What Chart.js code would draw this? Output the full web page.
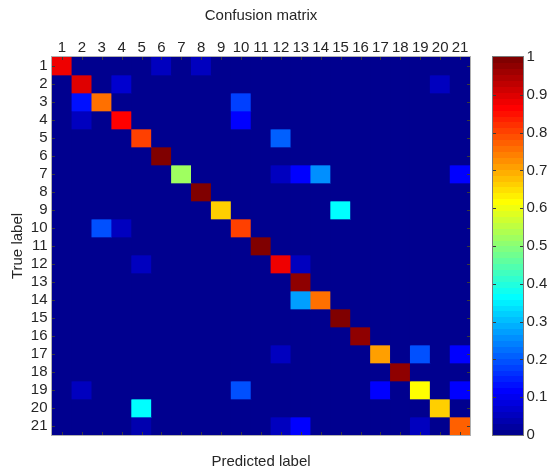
<!DOCTYPE html>
<html><head><meta charset="utf-8">
<script src="https://cdn.jsdelivr.net/npm/chart.js@4"></script>
<style>
html,body{margin:0;padding:0;background:#fff;}
#wrap{position:relative;width:552px;height:472px;overflow:hidden;}
#main{position:absolute;left:0;top:0;}
#cb{position:absolute;left:480px;top:0;}
</style></head><body>
<div id="wrap"><canvas id="main" width="552" height="472"></canvas><canvas id="cb" width="72" height="472"></canvas></div>
<script>
// ---- data ----
const classLabels = ['1','2','3','4','5','6','7','8','9','10','11','12','13','14','15','16','17','18','19','20','21'];
const matrix = [
/* 1*/ [0.88,0,0,0,0,0.06,0,0.06,0,0,0,0,0,0,0,0,0,0,0,0,0],
/* 2*/ [0,0.90,0,0.07,0,0,0,0,0,0,0,0,0,0,0,0,0,0,0,0.05,0],
/* 3*/ [0,0.14,0.76,0,0,0,0,0,0,0.18,0,0,0,0,0,0,0,0,0,0,0],
/* 4*/ [0,0.06,0,0.86,0,0,0,0,0,0.12,0,0,0,0,0,0,0,0,0,0,0],
/* 5*/ [0,0,0,0,0.80,0,0,0,0,0,0,0.21,0,0,0,0,0,0,0,0,0],
/* 6*/ [0,0,0,0,0,1.00,0,0,0,0,0,0,0,0,0,0,0,0,0,0,0],
/* 7*/ [0,0,0,0,0,0,0.52,0,0,0,0,0.05,0.11,0.26,0,0,0,0,0,0,0.12],
/* 8*/ [0,0,0,0,0,0,0,0.99,0,0,0,0,0,0,0,0,0,0,0,0,0],
/* 9*/ [0,0,0,0,0,0,0,0,0.66,0,0,0,0,0,0.37,0,0,0,0,0,0],
/*10*/ [0,0,0.19,0.06,0,0,0,0,0,0.80,0,0,0,0,0,0,0,0,0,0,0],
/*11*/ [0,0,0,0,0,0,0,0,0,0,1.00,0,0,0,0,0,0,0,0,0,0],
/*12*/ [0,0,0,0,0.05,0,0,0,0,0,0,0.89,0.06,0,0,0,0,0,0,0,0],
/*13*/ [0,0,0,0,0,0,0,0,0,0,0,0,0.98,0,0,0,0,0,0,0,0],
/*14*/ [0,0,0,0,0,0,0,0,0,0,0,0,0.28,0.76,0,0,0,0,0,0,0],
/*15*/ [0,0,0,0,0,0,0,0,0,0,0,0,0,0,1.00,0,0,0,0,0,0],
/*16*/ [0,0,0,0,0,0,0,0,0,0,0,0,0,0,0,0.98,0,0,0,0,0],
/*17*/ [0,0,0,0,0,0,0,0,0,0,0,0.05,0,0,0,0,0.71,0,0.19,0,0.11],
/*18*/ [0,0,0,0,0,0,0,0,0,0,0,0,0,0,0,0,0,0.98,0,0,0],
/*19*/ [0,0.06,0,0,0,0,0,0,0,0.19,0,0,0,0,0,0,0.12,0,0.61,0,0.12],
/*20*/ [0,0,0,0,0.37,0,0,0,0,0,0,0,0,0,0,0,0,0,0,0.665,0],
/*21*/ [0,0,0,0,0.04,0,0,0,0,0,0,0.06,0.11,0,0,0,0,0,0.06,0,0.77]
];
const colorbarTicks = [0,0.1,0.2,0.3,0.4,0.5,0.6,0.7,0.8,0.9,1];
const colorLevels = 64;

// ---- jet colormap (MATLAB style, 64 levels) ----
function jet(v){
  const k = Math.min(colorLevels-1, Math.max(0, Math.floor(v*colorLevels)));
  const t = (k+1)/colorLevels;
  const f = x => Math.round(255*Math.max(0, Math.min(1, x)));
  return 'rgb(' + f(1.5-Math.abs(4*t-3)) + ',' + f(1.5-Math.abs(4*t-2)) + ',' + f(1.5-Math.abs(4*t-1)) + ')';
}

const FONT = {family:'"Liberation Sans", Arial, sans-serif', size:15};
const TXT = '#262626';
Chart.defaults.font.family = FONT.family;
Chart.defaults.color = TXT;

// plugin: background + frame + inward tick marks
const frameTicks = {
  id:'frameTicks',
  beforeDatasetsDraw(chart){
    const {ctx, chartArea:a} = chart;
    ctx.save();
    ctx.fillStyle = jet(0);
    ctx.fillRect(a.left, a.top, a.right-a.left, a.bottom-a.top);
    ctx.restore();
  },
  afterDatasetsDraw(chart){
    const {ctx, chartArea:a, scales} = chart;
    ctx.save();
    ctx.strokeStyle = '#b0b0b0';
    ctx.lineWidth = 1;
    ctx.strokeRect(a.left-0.5, a.top-0.5, a.right-a.left+1, a.bottom-a.top+1);
    ctx.strokeStyle = '#3a3a3a';
    ctx.beginPath();
    const L = 3;
    scales.x.ticks.forEach((t,i)=>{
      const px = Math.round(scales.x.getPixelForTick(i))+0.5;
      ctx.moveTo(px, a.top); ctx.lineTo(px, a.top+L);
      ctx.moveTo(px, a.bottom); ctx.lineTo(px, a.bottom-L);
    });
    scales.y.ticks.forEach((t,i)=>{
      const py = Math.round(scales.y.getPixelForValue(t.value))+0.5;
      ctx.moveTo(a.left, py); ctx.lineTo(a.left+L, py);
      ctx.moveTo(a.right, py); ctx.lineTo(a.right-L, py);
    });
    ctx.stroke();
    ctx.restore();
  }
};

const datasets = matrix.map((row, i) => ({
  label: 'True ' + classLabels[i],
  data: row.map(() => [i+0.5, i+1.5]),
  backgroundColor: row.map(jet),
  borderWidth: 0,
  barPercentage: 1,
  categoryPercentage: 1,
  grouped: false
}));

new Chart(document.getElementById('main'), {
  type:'bar',
  data:{labels: classLabels, datasets},
  options:{
    responsive:false, animation:false, devicePixelRatio:1,
    layout:{padding:{left:0, top:0, right:82, bottom:0}},
    plugins:{
      legend:{display:false}, tooltip:{enabled:false},
      title:{display:true, text:'Confusion matrix', fullSize:false, color:TXT,
        font:{family:FONT.family, size:15, weight:'normal'}, padding:{top:6.5, bottom:3}}
    },
    scales:{
      x:{type:'category', position:'top', offset:true,
        grid:{display:false, drawTicks:false}, border:{display:false},
        ticks:{autoSkip:false, maxRotation:0, minRotation:0, padding:0, color:TXT, font:FONT},
        afterFit(s){ s.height = 29.5; }
      },
      x2:{type:'category', position:'bottom', offset:true,
        grid:{display:false, drawTicks:false}, border:{display:false},
        ticks:{display:false},
        title:{display:true, text:'Predicted label', color:TXT, font:FONT, padding:{top:0, bottom:1.3}},
        afterFit(s){ s.height = 37; }
      },
      y:{type:'linear', position:'left', min:0.5, max:21.5, reverse:true,
        grid:{display:false, drawTicks:false}, border:{display:false},
        afterBuildTicks(s){ s.ticks = classLabels.map(l => ({value:Number(l)})); },
        ticks:{autoSkip:false, padding:4.5, color:TXT, font:FONT, callback:(v)=>String(v)},
        title:{display:true, text:'True label', color:TXT, font:FONT, padding:{top:9, bottom:0}},
        afterFit(s){ s.width = 52; }
      }
    }
  },
  plugins:[frameTicks]
});

// ---- colorbar ----
const colorbarPlugin = {
  id:'colorbarPlugin',
  afterDatasetsDraw(chart){
    const {ctx, chartArea:a, scales} = chart;
    const ys = scales.y;
    ctx.save();
    for(let k=0;k<colorLevels;k++){
      const y1 = ys.getPixelForValue(k/colorLevels);
      const y2 = ys.getPixelForValue((k+1)/colorLevels);
      ctx.fillStyle = jet((k+0.5)/colorLevels);
      ctx.fillRect(a.left, Math.floor(y2), a.right-a.left, Math.ceil(y1)-Math.floor(y2));
    }
    ctx.strokeStyle = '#7a7a7a';
    ctx.lineWidth = 1;
    ctx.strokeRect(a.left-0.5, a.top-0.5, a.right-a.left+1, a.bottom-a.top+1);
    ctx.strokeStyle = '#3a3a3a';
    ctx.beginPath();
    colorbarTicks.forEach(v=>{
      if(v===0||v===1) return;
      const py = Math.round(ys.getPixelForValue(v))+0.5;
      ctx.moveTo(a.left, py); ctx.lineTo(a.left+3, py);
      ctx.moveTo(a.right, py); ctx.lineTo(a.right-3, py);
    });
    ctx.stroke();
    ctx.restore();
  }
};

new Chart(document.getElementById('cb'), {
  type:'bar',
  data:{labels:[''], datasets:[]},
  options:{
    responsive:false, animation:false, devicePixelRatio:1,
    layout:{padding:{left:13, top:57, right:0, bottom:37}},
    plugins:{legend:{display:false}, tooltip:{enabled:false}},
    scales:{
      x:{display:false},
      y:{type:'linear', position:'right', min:0, max:1,
        grid:{display:false, drawTicks:false}, border:{display:false},
        afterBuildTicks(s){ s.ticks = colorbarTicks.map(v => ({value:v})); },
        ticks:{autoSkip:false, padding:3.5, color:TXT, font:FONT, callback:(v)=>String(v)},
        afterFit(s){ s.width = 29; }
      }
    }
  },
  plugins:[colorbarPlugin]
});
</script>
</body></html>
